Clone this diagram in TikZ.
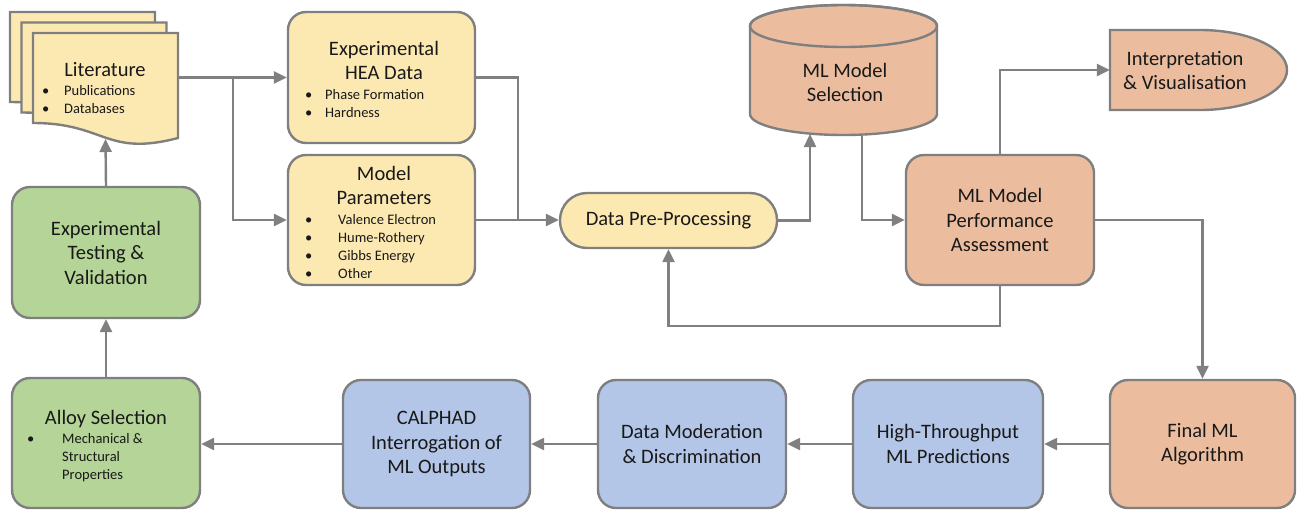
\documentclass[tikz,border=0pt]{standalone}
\usepackage{fontspec}
\setmainfont{Carlito}
\usetikzlibrary{arrows.meta}
\definecolor{ylw}{HTML}{FCE9B2}
\definecolor{org}{HTML}{EBBD9E}
\definecolor{grn}{HTML}{B4D597}
\definecolor{blu}{HTML}{B3C6E7}
\definecolor{edgec}{HTML}{7F7F7F}
\definecolor{linec}{HTML}{808080}
\newcommand{\bul}[2]{\makebox[#1][l]{•}#2}
\begin{document}
\begin{tikzpicture}[x=1pt,y=-1pt,
  box/.style={draw=edgec, line width=2.4pt, rounded corners=18pt, inner sep=0pt,
    align=center, font=\fontsize{20.5}{24.5}\selectfont, text=black!90},
  shp/.style={draw=edgec, line width=2.4pt},
  ttl/.style={anchor=base, inner sep=0pt, font=\fontsize{20.5}{24.5}\selectfont, text=black!90},
  blt/.style={anchor=base west, inner sep=0pt, font=\fontsize{14.5}{17}\selectfont, text=black!90},
  conn/.style={draw=linec, line width=2.4pt},
  arr/.style={conn, -{Triangle[length=13pt,width=12pt]}}]
\useasboundingbox (0,0) rectangle (1299,512);

% ---- Literature document stack
\foreach \dx/\dy in {-23/-21,-11.5/-10.5,0/0}{
  \filldraw[shp, fill=ylw, shift={(\dx,\dy)}] (33,33) -- (178,33) -- (178,138)
    .. controls (105.5,157) and (105.5,123) .. (33,123) -- cycle;
}
\node[minimum width=145pt, minimum height=89pt, inner sep=0pt] (lit) at (105.5,77.5) {};
\coordinate (litb) at (105.5,139);
\node[ttl] (litT) at (105,76) {Literature};
\node[blt] (litB1) at (42,95) {\bul{22pt}{Publications}};
\node[blt] (litB2) at (42,113) {\bul{22pt}{Databases}};

% ---- Experimental HEA Data
\node[box, fill=ylw, minimum width=187pt, minimum height=131pt] (hea) at (381.5,77.5) {};
\node[ttl] (heaT1) at (384,55) {Experimental};
\node[ttl] (heaT2) at (384,79.5) {HEA Data};
\node[blt] (heaB1) at (305,99) {\bul{20pt}{Phase Formation}};
\node[blt] (heaB2) at (305,117) {\bul{20pt}{Hardness}};

% ---- Model Parameters
\node[box, fill=ylw, minimum width=187pt, minimum height=130pt] (par) at (381.5,220) {};
\node[ttl] (parT1) at (384,180) {Model};
\node[ttl] (parT2) at (384,204) {Parameters};
\node[blt] (parB1) at (305,224) {\bul{33pt}{Valence Electron}};
\node[blt] (parB2) at (305,242) {\bul{33pt}{Hume-Rothery}};
\node[blt] (parB3) at (305,260) {\bul{33pt}{Gibbs Energy}};
\node[blt] (parB4) at (305,278) {\bul{33pt}{Other}};

% ---- Data Pre-Processing
\node[box, fill=ylw, rounded corners=27pt, minimum width=217pt, minimum height=55pt] (dpp) at (668.5,220.5) {Data Pre-Processing};

% ---- ML Model Selection (cylinder)
\filldraw[shp, fill=org] (750,26) -- (750,114)
  arc[start angle=180, end angle=360, x radius=93.5pt, y radius=21pt] -- (937,26)
  arc[start angle=0, end angle=180, x radius=93.5pt, y radius=21pt] -- cycle;
\draw[shp] (843.5,26) ellipse [x radius=93.5pt, y radius=21pt];
\node[minimum width=187pt, minimum height=130pt, inner sep=0pt] (sel) at (843.5,70) {};
\node[ttl] (selT1) at (845,77) {ML Model};
\node[ttl] (selT2) at (845,101) {Selection};
\coordinate (selA) at (810,134);
\coordinate (selB) at (862,134);

% ---- Interpretation & Visualisation (delay shape)
\filldraw[shp, fill=org] (1110,30) -- (1200,30)
  arc[start angle=90, end angle=-90, x radius=87pt, y radius=40pt] -- (1110,110) -- cycle;
\node[minimum width=177pt, minimum height=80pt, inner sep=0pt] (intp) at (1198.5,70) {};
\node[ttl] (intT1) at (1185,65) {Interpretation};
\node[ttl] (intT2) at (1185,89.5) {\& Visualisation};

% ---- ML Model Performance Assessment
\node[box, fill=org, minimum width=188pt, minimum height=130pt] (perf) at (1000,220) {ML Model\\Performance\\Assessment};

% ---- bottom row
\node[box, fill=org, minimum width=185pt, minimum height=128pt] (final) at (1202.5,444) {Final ML\\Algorithm};
\node[box, fill=blu, minimum width=190pt, minimum height=128pt] (ht) at (948,444) {High-Throughput\\ML Predictions};
\node[box, fill=blu, minimum width=188pt, minimum height=128pt] (dm) at (692,444) {Data Moderation\\\& Discrimination};
\node[box, fill=blu, minimum width=187pt, minimum height=128pt] (cal) at (436.5,444) {CALPHAD\\Interrogation of\\ML Outputs};
\node[box, fill=grn, minimum width=188pt, minimum height=130pt] (alloy) at (106,443) {};
\node[ttl] (allT) at (106,424) {Alloy Selection};
\node[blt] (allB1) at (27,443) {\bul{35pt}{Mechanical \&}};
\node[blt] (allB2) at (62,461) {Structural};
\node[blt] (allB3) at (62,479) {Properties};

% ---- Experimental Testing & Validation
\node[box, fill=grn, minimum width=188pt, minimum height=131pt] (test) at (106,252.5) {Experimental\\Testing \&\\Validation};

% ---- connectors
\draw[arr] (lit.east) -- (hea.west);
\coordinate (j1) at (233,77.5);
\draw[arr] (j1) |- (par.west);
\coordinate (j2) at (518,220);
\draw[conn] (hea.east) -| (j2);
\draw[arr] (par.east) -- (dpp.west |- par.east);
\draw[arr] (dpp.east) -| (selA);
\draw[arr] (selB) |- (perf.west);
\draw[arr] (perf.north) |- (intp.west);
\draw[arr] (perf.east) -| (final.north);
\draw[arr] (perf.south) -- ++(0,40) -| (dpp.south);
\draw[arr] (final.west) -- (ht.east);
\draw[arr] (ht.west) -- (dm.east);
\draw[arr] (dm.west) -- (cal.east);
\draw[arr] (cal.west) -- (alloy.east |- cal.west);
\draw[arr] (alloy.north) -- (test.south);
\draw[arr] (test.north) -- (litb);
\end{tikzpicture}
\end{document}
